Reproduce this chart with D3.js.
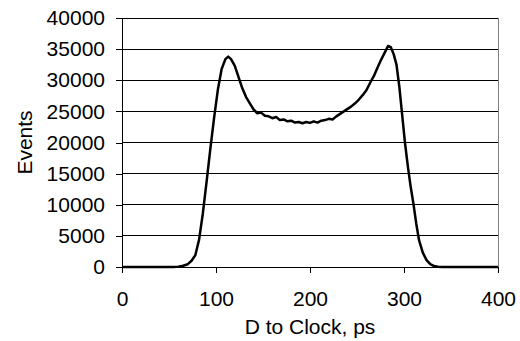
<!DOCTYPE html>
<html>
<head>
<meta charset="utf-8">
<script src="https://cdn.jsdelivr.net/npm/d3@7"></script>
<style>
  body { margin: 0; background: #fff; }
  text { font-family: "Liberation Sans", Arial, sans-serif; fill: #000; }
</style>
</head>
<body>
<div class="stage"></div>
<script>
// delay in ps
var delays = [0, 10, 20, 30, 40, 50, 55, 60, 65, 70, 74, 78, 82, 86, 90, 94, 98, 102, 106, 110,
  113, 116, 120, 124, 128, 132, 136, 140, 144, 148, 152, 156, 160, 164, 168, 172, 176, 180, 184,
  188, 192, 196, 200, 204, 208, 212, 216, 220, 224, 228, 232, 236, 240, 244, 248, 252, 256, 260,
  264, 268, 272, 276, 280, 283, 286, 289, 292, 295, 298, 301, 304, 307, 310, 313, 316, 320, 324,
  328, 332, 336, 340, 350, 360, 380, 400];
// event counts
var events = [0, 0, 0, 0, 0, 0, 10, 60, 200, 450, 1000, 1900, 4400, 8600, 13700, 19000, 24000,
  28500, 31800, 33400, 33800, 33400, 32300, 30500, 28700, 27300, 26300, 25300, 24700, 24800,
  24300, 24200, 23900, 24100, 23600, 23700, 23400, 23500, 23200, 23300, 23100, 23300, 23150,
  23400, 23200, 23500, 23600, 23800, 23700, 24200, 24600, 25000, 25400, 25800, 26300, 26900,
  27600, 28400, 29600, 30700, 32100, 33400, 34600, 35500, 35300, 34200, 32500, 29000, 24500,
  20000, 16300, 13000, 10200, 7000, 4300, 2300, 1100, 450, 150, 40, 0, 0, 0, 0, 0];
var xTicks = [0, 100, 200, 300, 400];
var yTicks = [0, 5000, 10000, 15000, 20000, 25000, 30000, 35000, 40000];

var width = 520, height = 341;
var margin = {left: 122, top: 18, right: 22, bottom: 74};
var fontSize = "21px";

var svg = d3.select(".stage").append("svg")
  .attr("width", width).attr("height", height);

var x = d3.scaleLinear().domain([0, 400]).range([margin.left, width - margin.right]);
var y = d3.scaleLinear().domain([0, 40000]).range([height - margin.bottom, margin.top]);

// gridlines
svg.selectAll("line.grid").data(yTicks.slice(1)).enter()
  .append("line")
  .attr("class", "grid")
  .attr("x1", x(0)).attr("x2", x(400))
  .attr("y1", function(d){ return y(d); })
  .attr("y2", function(d){ return y(d); })
  .attr("stroke", "#000")
  .attr("stroke-width", 1)
  .attr("shape-rendering", "crispEdges");

// right border of plot area
svg.append("line")
  .attr("x1", x(400)).attr("x2", x(400))
  .attr("y1", y(40000)).attr("y2", y(0))
  .attr("stroke", "#808080")
  .attr("shape-rendering", "crispEdges");

var xAxis = svg.append("g")
  .attr("transform", "translate(0," + y(0) + ")")
  .call(d3.axisBottom(x).tickValues(xTicks).tickSize(6).tickPadding(18));

var yAxis = svg.append("g")
  .attr("transform", "translate(" + x(0) + ",0)")
  .call(d3.axisLeft(y).tickValues(yTicks).tickSize(6).tickPadding(11).tickFormat(d3.format("d")));

[xAxis, yAxis].forEach(function(a){
  a.selectAll("path, line").attr("stroke", "#000").attr("shape-rendering", "crispEdges");
  a.selectAll("text").style("font-size", fontSize).attr("fill", "#000");
});

// data line
var line = d3.line()
  .x(function(d, i){ return x(delays[i]); })
  .y(function(d){ return y(d); });

svg.append("path")
  .datum(events)
  .attr("d", line)
  .attr("fill", "none")
  .attr("stroke", "#000")
  .attr("stroke-width", 2.5)
  .attr("stroke-linejoin", "round");

// axis titles
svg.append("text")
  .attr("x", x(200)).attr("y", 334)
  .attr("text-anchor", "middle")
  .style("font-size", fontSize)
  .text("D to Clock, ps");

svg.append("text")
  .attr("transform", "translate(32," + ((y(0) + y(40000)) / 2) + ") rotate(-90)")
  .attr("text-anchor", "middle")
  .style("font-size", fontSize)
  .text("Events");
</script>
</body>
</html>
